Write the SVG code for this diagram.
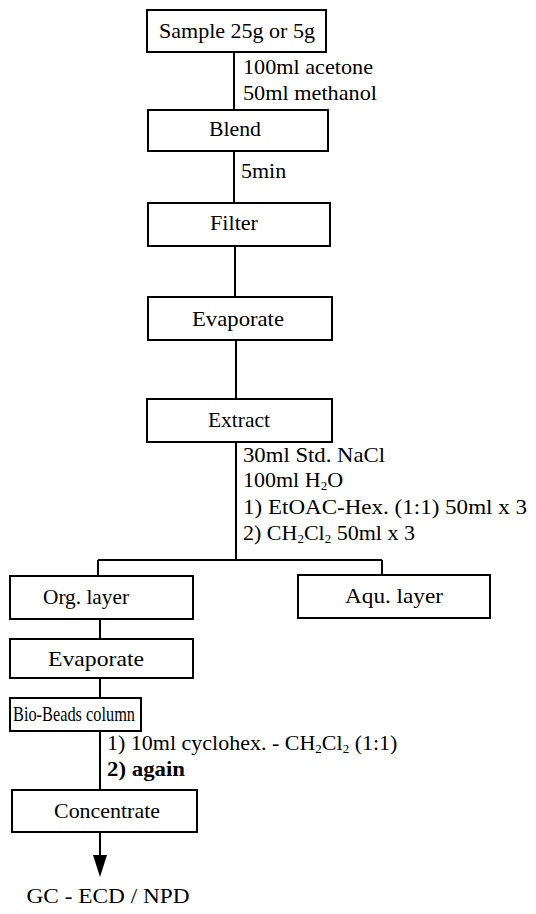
<svg xmlns="http://www.w3.org/2000/svg" width="536" height="914" viewBox="0 0 536 914">
<style>
.box{fill:#fff;stroke:#000;stroke-width:2}
.ln{fill:none;stroke:#000;stroke-width:2}
text{font-family:"Liberation Serif","Times New Roman",serif;font-size:22px;fill:#000}
.c{text-anchor:middle}
.s{font-size:13px}
</style>
<rect width="536" height="914" fill="#fff"/>
<g id="connectors">
<path class="ln" d="M234,52 V110"/>
<path class="ln" d="M234,151 V203"/>
<path class="ln" d="M235,246 V297"/>
<path class="ln" d="M236,340 V399"/>
<path class="ln" d="M236,442 V560"/>
<path class="ln" d="M98,560 H382"/>
<path class="ln" d="M98,560 V576"/>
<path class="ln" d="M382,560 V575"/>
<path class="ln" d="M100,619 V639"/>
<path class="ln" d="M100,678 V698"/>
<path class="ln" d="M100,731 V790"/>
<path class="ln" d="M100,832 V856"/>
<path d="M93,855 L107,855 L100,877 Z" fill="#000"/>
<text x="243" y="74" textLength="130" lengthAdjust="spacingAndGlyphs">100ml acetone</text>
<text x="243" y="100" textLength="134" lengthAdjust="spacingAndGlyphs">50ml methanol</text>
<text x="241" y="178">5min</text>
<text x="243" y="462" textLength="142" lengthAdjust="spacingAndGlyphs">30ml Std. NaCl</text>
<text x="243" y="487">100ml H<tspan class="s" dy="3">2</tspan><tspan dy="-3">O</tspan></text>
<text x="243" y="514" textLength="284" lengthAdjust="spacingAndGlyphs">1)  EtOAC-Hex. (1:1) 50ml x 3</text>
<text x="243" y="540">2)  CH<tspan class="s" dy="3">2</tspan><tspan dy="-3">Cl</tspan><tspan class="s" dy="3">2</tspan><tspan dy="-3"> 50ml x 3</tspan></text>
<text x="107" y="750" font-size="20">1)  10ml cyclohex. - CH<tspan class="s" dy="3">2</tspan><tspan dy="-3">Cl</tspan><tspan class="s" dy="3">2</tspan><tspan dy="-3"> (1:1)</tspan></text>
<text x="107" y="776" font-size="20" font-weight="bold" textLength="78" lengthAdjust="spacingAndGlyphs">2)  again</text>
</g>
<g id="sample"><rect class="box" x="147" y="10" width="179" height="42"/><text class="c" x="237" y="38" textLength="156" lengthAdjust="spacingAndGlyphs">Sample 25g or 5g</text></g>
<g id="blend"><rect class="box" x="148" y="110" width="180" height="41"/><text class="c" x="235" y="136" textLength="52" lengthAdjust="spacingAndGlyphs">Blend</text></g>
<g id="filter"><rect class="box" x="148" y="203" width="182" height="43"/><text class="c" x="234" y="230" textLength="48" lengthAdjust="spacingAndGlyphs">Filter</text></g>
<g id="evaporate1"><rect class="box" x="148" y="297" width="184" height="43"/><text class="c" x="238" y="326" textLength="92" lengthAdjust="spacingAndGlyphs">Evaporate</text></g>
<g id="extract"><rect class="box" x="147" y="399" width="185" height="43"/><text class="c" x="239" y="427" textLength="62" lengthAdjust="spacingAndGlyphs">Extract</text></g>
<g id="org"><rect class="box" x="10" y="576" width="183" height="43"/><text class="c" x="86" y="604" textLength="86" lengthAdjust="spacingAndGlyphs">Org. layer</text></g>
<g id="aqu"><rect class="box" x="298" y="575" width="192" height="43"/><text class="c" x="394" y="603" textLength="98" lengthAdjust="spacingAndGlyphs">Aqu. layer</text></g>
<g id="evaporate2"><rect class="box" x="10" y="639" width="183" height="39"/><text class="c" x="96" y="666" textLength="96" lengthAdjust="spacingAndGlyphs">Evaporate</text></g>
<g id="biobeads"><rect class="box" x="10" y="698" width="131" height="33"/><text class="c" x="74" y="721" font-size="19" textLength="122" lengthAdjust="spacingAndGlyphs">Bio-Beads column</text></g>
<g id="concentrate"><rect class="box" x="12" y="790" width="185" height="42"/><text class="c" x="107" y="818" textLength="106" lengthAdjust="spacingAndGlyphs">Concentrate</text></g>
<g id="gc"><text class="c" x="108" y="903" textLength="163" lengthAdjust="spacingAndGlyphs">GC - ECD / NPD</text></g>
</svg>
